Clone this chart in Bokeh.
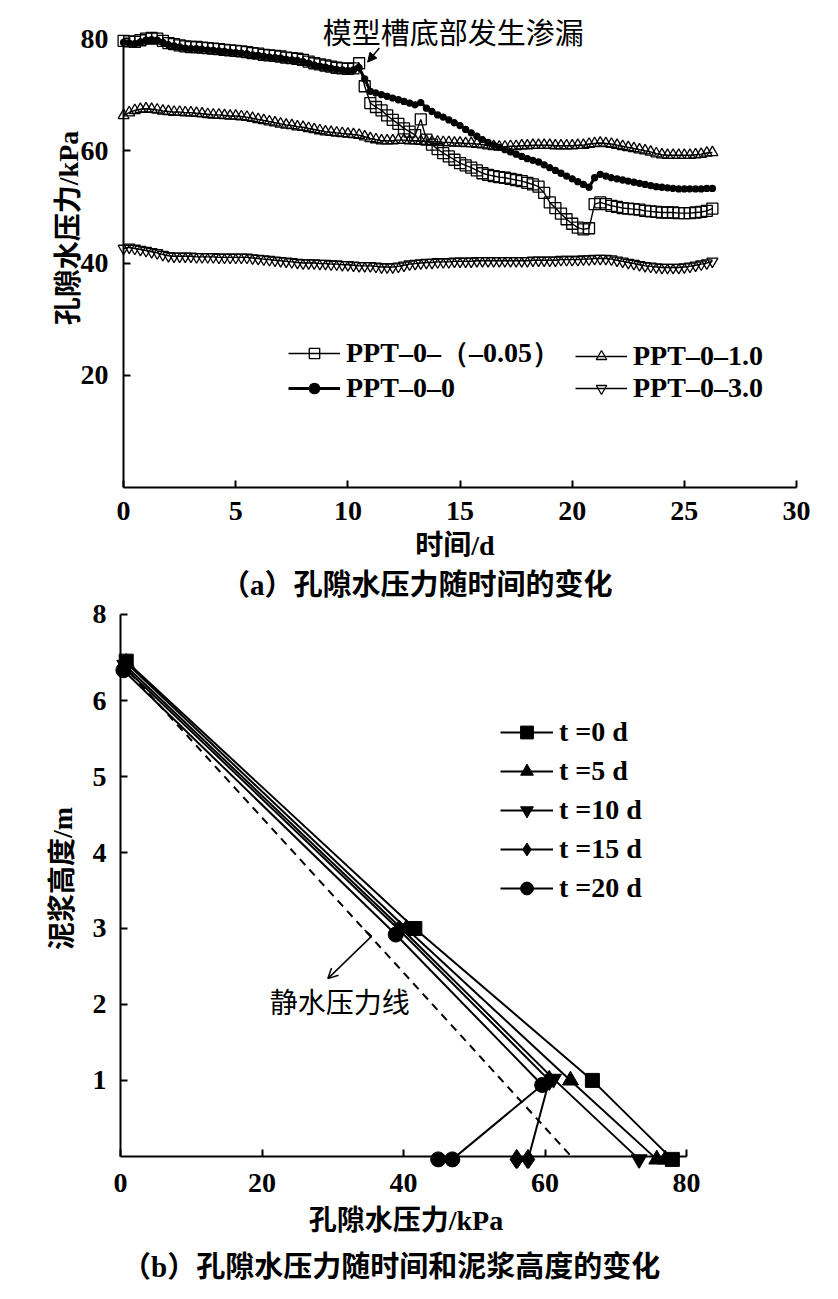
import numpy as np
from bokeh.plotting import figure
from bokeh.models import (Range1d, FixedTicker, Legend, LegendItem, Label, Arrow,
                          NormalHead, OpenHead, LinearAxis, Div)
from bokeh.layouts import column
from bokeh.embed import file_html
from bokeh.resources import INLINE

SERIF = "Liberation Serif"
CJK = "Noto Sans CJK SC"
MIX = "Liberation Serif, Noto Sans CJK SC"
NB = "\u00a0"

# ---------------- panel (a) data: pore water pressure vs time ----------------
DAYS = np.round(np.arange(0, 26.26, 0.25), 2)  # sampling times, d

PPT_M005 = [  # PPT-0-(-0.05), kPa
    79.6, 79.5, 79.4, 79.7, 80.0, 80.1, 80.0, 79.6, 79.2, 79.0, 78.8, 78.6, 78.5, 78.5, 78.4, 78.3,
    78.2, 78.1, 78.0, 77.9, 77.8, 77.7, 77.6, 77.4, 77.3, 77.1, 77.0, 76.9, 76.8, 76.6, 76.5, 76.4,
    76.2, 75.9, 75.6, 75.4, 75.2, 75.0, 74.8, 74.7, 74.6, 74.7, 75.6, 71.5, 68.5, 67.8, 67.2, 66.3,
    65.5, 64.8, 64.0, 63.4, 62.8, 65.6, 62.0, 61.1, 60.3, 59.6, 59.0, 58.4, 57.8, 57.4, 57.0, 56.5,
    56.0, 55.7, 55.5, 55.3, 55.2, 55.0, 54.8, 54.6, 54.3, 54.0, 53.6, 52.5, 50.8, 49.8, 48.8, 47.8,
    47.0, 46.3, 46.0, 46.2, 50.5, 50.8, 50.5, 50.2, 50.0, 49.8, 49.7, 49.6, 49.5, 49.3, 49.2, 49.1,
    49.0, 49.0, 49.0, 48.9, 48.9, 48.9, 49.0, 49.1, 49.3, 49.7]
PPT_0 = [  # PPT-0-0, kPa
    79.3, 79.2, 79.1, 79.4, 79.7, 79.8, 79.7, 79.3, 78.9, 78.7, 78.5, 78.3, 78.2, 78.2, 78.1, 78.0,
    77.9, 77.8, 77.7, 77.6, 77.5, 77.4, 77.3, 77.1, 77.0, 76.8, 76.7, 76.6, 76.5, 76.3, 76.2, 76.1,
    75.9, 75.6, 75.3, 75.1, 74.9, 74.7, 74.5, 74.4, 74.3, 74.4, 74.8, 72.8, 70.6, 70.3, 70.0, 69.7,
    69.4, 69.1, 68.8, 68.5, 68.2, 68.6, 67.6, 67.0, 66.4, 66.0, 65.5, 65.0, 64.5, 63.8, 63.2, 62.6,
    62.0, 61.5, 61.0, 60.6, 60.2, 59.8, 59.4, 59.0, 58.6, 58.3, 58.0, 57.5, 57.0, 56.5, 56.0, 55.5,
    55.0, 54.5, 54.0, 53.5, 55.2, 55.8, 55.5, 55.2, 55.0, 54.8, 54.6, 54.4, 54.2, 54.0, 53.8, 53.6,
    53.5, 53.4, 53.3, 53.2, 53.2, 53.2, 53.2, 53.2, 53.3, 53.3]
PPT_10 = [  # PPT-0-1.0, kPa
    66.3, 66.8, 67.2, 67.4, 67.5, 67.4, 67.3, 67.1, 67.0, 66.9, 66.9, 66.8, 66.8, 66.7, 66.6, 66.5,
    66.4, 66.4, 66.3, 66.2, 66.2, 66.1, 66.0, 65.8, 65.6, 65.4, 65.2, 65.0, 64.8, 64.6, 64.5, 64.3,
    64.2, 64.0, 63.8, 63.6, 63.4, 63.3, 63.2, 63.1, 63.0, 62.9, 62.8, 62.5, 62.2, 62.0, 61.8, 61.8,
    61.8, 61.9, 61.9, 61.8, 61.8, 61.7, 61.7, 61.6, 61.6, 61.5, 61.5, 61.4, 61.4, 61.3, 61.3, 61.2,
    61.1, 60.9, 60.8, 60.7, 60.7, 60.8, 60.8, 60.9, 60.9, 61.0, 61.0, 61.0, 61.0, 60.9, 60.9, 60.9,
    60.9, 61.0, 61.0, 61.2, 61.3, 61.4, 61.3, 61.2, 61.0, 60.8, 60.6, 60.4, 60.2, 60.0, 59.8, 59.5,
    59.3, 59.2, 59.2, 59.2, 59.2, 59.2, 59.3, 59.4, 59.6, 59.7]
PPT_30 = [  # PPT-0-3.0, kPa
    42.6, 42.8, 42.6, 42.4, 42.2, 42.0, 41.8, 41.5, 41.3, 41.2, 41.2, 41.2, 41.2, 41.1, 41.1, 41.1,
    41.1, 41.0, 41.0, 41.0, 41.0, 41.0, 41.0, 40.9, 40.8, 40.7, 40.6, 40.5, 40.4, 40.3, 40.2, 40.1,
    40.0, 40.0, 40.0, 39.9, 39.9, 39.8, 39.8, 39.7, 39.7, 39.6, 39.5, 39.5, 39.5, 39.4, 39.3, 39.3,
    39.3, 39.4, 39.6, 39.8, 39.9, 40.0, 40.1, 40.1, 40.2, 40.2, 40.2, 40.3, 40.3, 40.3, 40.3, 40.4,
    40.4, 40.4, 40.4, 40.4, 40.4, 40.4, 40.4, 40.4, 40.4, 40.5, 40.5, 40.5, 40.5, 40.5, 40.6, 40.6,
    40.6, 40.6, 40.7, 40.7, 40.8, 40.8, 40.8, 40.7, 40.5, 40.3, 40.1, 39.9, 39.7, 39.5, 39.4, 39.3,
    39.2, 39.2, 39.2, 39.2, 39.3, 39.4, 39.6, 39.8, 40.0, 40.3]

A_LABELS = ["PPT–0–（–0.05）", "PPT–0–0", "PPT–0–1.0", "PPT–0–3.0"]
A_XTICKS = [0, 5, 10, 15, 20, 25, 30]
A_YTICKS = [20, 40, 60, 80]

# ---------------- panel (b) data: pressure vs slurry height ----------------
B_LABELS = ["t =0 d", "t =5 d", "t =10 d", "t =15 d", "t =20 d"]
B_P = [  # pore water pressure, kPa
    [0.8, 41.6, 66.7, 78.0],
    [0.8, 40.4, 63.6, 75.8, 77.0],
    [0.6, 39.7, 61.2, 73.3],
    [0.5, 39.4, 60.6, 57.6, 56.0],
    [0.4, 38.9, 59.6, 46.9, 44.9],
]
B_H = [  # slurry height, m
    [6.52, 3.0, 1.0, -0.04],
    [6.50, 3.0, 1.0, -0.04, -0.04],
    [6.47, 3.0, 1.02, -0.04],
    [6.44, 2.98, 1.0, -0.04, -0.04],
    [6.40, 2.92, 0.94, -0.04, -0.04],
]
HYDRO_P = [0.0, 63.7]
HYDRO_H = [6.5, 0.0]
B_XTICKS = [0, 20, 40, 60, 80]
B_YTICKS = [1, 2, 3, 4, 5, 6, 7.14]
B_YTICK_TEXT = {7.14: "8"}

CAPTION_A = "（a）孔隙水压力随时间的变化"
CAPTION_B = "（b）孔隙水压力随时间和泥浆高度的变化"

TICK_FS = "28px"
LAB_FS = "28px"


def text_axis(ax, ticks, bounds, label, standoff, label_standoff, show_line=False):
    ax.ticker = FixedTicker(ticks=ticks)
    ax.bounds = bounds
    ax.axis_label = label
    ax.minor_tick_line_color = None
    if show_line:
        ax.axis_line_width = 2
        ax.axis_line_color = "black"
        ax.major_tick_in = 7
        ax.major_tick_out = 0
        ax.major_tick_line_width = 2
    else:
        ax.axis_line_color = None
        ax.major_tick_line_color = None
        ax.major_tick_in = 0
        ax.major_tick_out = 0
    ax.major_label_text_font = SERIF
    ax.major_label_text_font_style = "bold"
    ax.major_label_text_font_size = TICK_FS
    ax.major_label_text_color = "black"
    ax.major_label_standoff = standoff
    ax.axis_label_text_font = MIX
    ax.axis_label_text_font_style = "bold"
    ax.axis_label_text_font_size = LAB_FS
    ax.axis_label_text_color = "black"
    ax.axis_label_standoff = label_standoff


def rule_axis(p, side, ticks, bounds):
    ax = LinearAxis(fixed_location=0, bounds=bounds, ticker=FixedTicker(ticks=ticks),
                    major_tick_in=7, major_tick_out=0, major_tick_line_width=2,
                    axis_line_width=2, axis_line_color="black", minor_tick_line_color=None,
                    major_label_overrides={t: "" for t in ticks},
                    major_label_text_font_size="1px", major_label_standoff=0)
    p.add_layout(ax, side)


def caption(text, left):
    html = (f'<div style="font-family: \'Liberation Serif\', \'Noto Sans CJK SC\'; '
            f'font-size: 29px; font-weight: bold; line-height: 28px; color: black; '
            f'white-space: nowrap; padding-left: {left}px;">{text}</div>')
    return Div(text=html, width=822, height=28, margin=(0, 0, 0, 0))


# ================= figure (a) =================
pa = figure(width=822, height=571, x_range=Range1d(-0.45, 30.0), y_range=Range1d(0, 85),
            output_backend="svg", toolbar_location=None, title=None,
            min_border_left=113, min_border_right=26, min_border_top=10, min_border_bottom=84)
pa.outline_line_color = None
pa.grid.visible = False
text_axis(pa.xaxis[0], A_XTICKS, (0, 30), "时间/d", 14, 7, show_line=True)
text_axis(pa.yaxis[0], A_YTICKS, (0, 80), NB * 6 + "孔隙水压力/kPa", 5, -6)
rule_axis(pa, "left", A_YTICKS, (0, 80))

series_a = [
    (PPT_10, "triangle", 11, None, 1.4),
    (PPT_30, "inverted_triangle", 11, None, 1.4),
    (PPT_0, "circle", 6, "black", 3.0),
    (PPT_M005, "square", 11, None, 1.4),
]
rend_a = {}
for vals, marker, size, fill, lw in series_a:
    lr = pa.line(DAYS, vals, line_color="black", line_width=lw)
    sr = pa.scatter(DAYS, vals, marker=marker, size=size, line_color="black",
                    fill_color=fill, line_width=1.3)
    rend_a[marker] = [lr, sr]

leg_style = dict(background_fill_alpha=0, border_line_color=None, label_text_font=SERIF,
                 label_text_font_style="bold", label_text_font_size="28px",
                 label_text_color="black", glyph_width=52,
                 label_standoff=6, padding=0, margin=0, orientation="vertical")
leg_a1 = Legend(items=[LegendItem(label=A_LABELS[0], renderers=rend_a["square"]),
                       LegendItem(label=A_LABELS[1], renderers=rend_a["circle"])],
                location=(175, 83), spacing=0, glyph_height=26, **leg_style)
leg_a2 = Legend(items=[LegendItem(label=A_LABELS[2], renderers=rend_a["triangle"]),
                       LegendItem(label=A_LABELS[3], renderers=rend_a["inverted_triangle"])],
                location=(462, 83), spacing=0, glyph_height=26, **leg_style)
pa.add_layout(leg_a1, "center")
pa.add_layout(leg_a2, "center")

pa.add_layout(Arrow(end=NormalHead(size=9, fill_color="black", line_color="black"),
                    x_start=11.4, y_start=78.3, x_end=10.88, y_end=75.8,
                    line_color="black", line_width=1.5))
pa.add_layout(Label(x=14.7, y=81.4, text="模型槽底部发生渗漏", text_align="center",
                    text_baseline="middle", text_font=CJK, text_font_size="29px",
                    text_color="black"))

# ================= figure (b) =================
pb = figure(width=822, height=654, x_range=Range1d(-1.0, 95.55), y_range=Range1d(-0.16, 7.2),
            output_backend="svg", toolbar_location=None, title=None,
            min_border_left=113, min_border_right=26, min_border_top=10, min_border_bottom=85)
pb.outline_line_color = None
pb.grid.visible = False
text_axis(pb.xaxis[0], B_XTICKS, (0, 80), "孔隙水压力/kPa" + NB * 14, 5, 10)
text_axis(pb.yaxis[0], B_YTICKS, (0, 7.14), NB * 3 + "泥浆高度/m", 7, 12)
pb.yaxis[0].major_label_overrides = B_YTICK_TEXT
rule_axis(pb, "below", B_XTICKS, (0, 80))
rule_axis(pb, "left", B_YTICKS, (0, 7.14))

pb.line(HYDRO_P, HYDRO_H, line_color="black", line_width=2, line_dash="8 6")

markers_b = [("square", 14), ("triangle", 16), ("inverted_triangle", 16), ("diamond", 20), ("circle", 15)]
items_b = []
for (marker, size), xs, ys, lab in zip(markers_b, B_P, B_H, B_LABELS):
    lr = pb.line(xs, ys, line_color="black", line_width=2)
    sr = pb.scatter(xs, ys, marker=marker, size=size, line_color="black", fill_color="black")
    items_b.append(LegendItem(label=lab, renderers=[lr, sr]))

leg_b = Legend(items=items_b, location=(387, 264), spacing=7, glyph_height=32,
               **{**leg_style, "glyph_width": 53})
pb.add_layout(leg_b, "center")

pb.add_layout(Arrow(end=OpenHead(size=10, line_color="black", line_width=1.5),
                    x_start=35.5, y_start=2.9, x_end=29.3, y_end=2.34,
                    line_color="black", line_width=1.5))
pb.add_layout(Arrow(end=None, x_start=34.5, y_start=2.98, x_end=35.5, y_end=2.9,
                    line_color="black", line_width=1.5))
pb.add_layout(Label(x=31.0, y=2.05, text="静水压力线", text_align="center",
                    text_baseline="middle", text_font=CJK, text_font_size="28px",
                    text_color="black"))

layout = column(pa, caption(CAPTION_A, 221), pb, caption(CAPTION_B, 122), spacing=0)
open("out.html", "w").write(file_html(layout, INLINE))
